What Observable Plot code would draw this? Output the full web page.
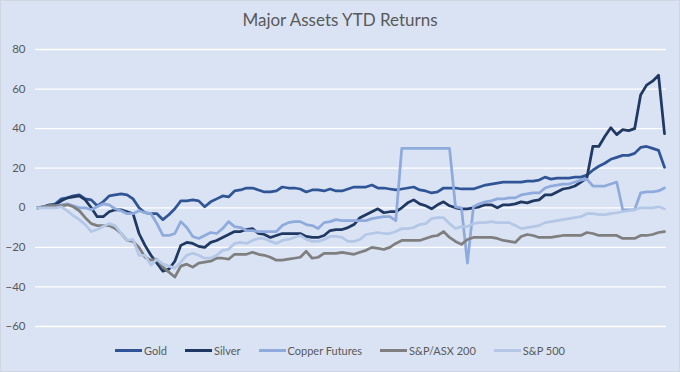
<!DOCTYPE html>
<html><head><meta charset="utf-8">
<script src="https://cdn.jsdelivr.net/npm/d3@7"></script>
<script src="https://cdn.jsdelivr.net/npm/@observablehq/plot@0.6"></script>
<style>
html,body{margin:0;padding:0;}
body{width:680px;height:372px;background:#dae3f3;font-family:Lato,"Open Sans",sans-serif;position:relative;overflow:hidden;}
#frame{position:absolute;left:0;top:0;width:678px;height:370px;border:1px solid #cfd6e2;}
#title{position:absolute;top:10px;left:0;width:680px;text-align:center;font-size:17px;line-height:20px;color:#595959;}
#chart{position:absolute;top:40px;left:0;}
#legend{position:absolute;top:344px;left:0;width:680px;display:flex;justify-content:center;align-items:center;font-size:11px;color:#595959;}
.item{display:flex;align-items:center;margin:0 9px;}
.sw{display:inline-block;width:27px;height:3px;margin-right:2px;}
</style>
</head><body>
<div id="frame"></div>
<div id="title">Major Assets YTD Returns</div>
<div id="chart"></div>
<div id="legend"></div>
<script>
const seriesNames = ["Gold","Silver","Copper Futures","S&P/ASX 200","S&P 500"];
const seriesColors = ["#2f5597","#1f3864","#8faadc","#7f7f7f","#b4c7e7"];
const yTicks = [-60,-40,-20,0,20,40,60,80];

const gold = [0,0.5,1,2,4.5,5,6,6.5,4.5,4,1,3,6,6.5,7,6.5,4.5,0,-2.5,-3,-3,-6,-3.5,-0.5,3.5,3.5,4,3.5,0.5,3,4.5,6,5.5,8.5,9,10,10,9,8,8,8.5,10.5,10,10,9.5,8,9,9,8.5,9.5,8.5,8.5,9.5,10.5,10.5,10.5,11.5,10,10,9.5,9,9.5,10,10.5,9,8.5,7.5,8,10,10,10,9.5,9.5,9.5,10.5,11.5,12,12.5,13,13,13,13,13.5,13.5,14,15.5,14.5,15,15,15,15.5,15.5,16.5,19,21,22.5,24.5,25.5,26.5,26.5,27.5,30.5,31,30,29,20.5];
const silver = [0,0.5,1.5,1.5,3.5,5,5.5,6,4,0,-4.5,-4.5,-2,-1,-1,-2,-3,-13,-19,-24,-28,-32,-31,-27,-19,-17.5,-18,-19.5,-20,-17.5,-16.5,-15,-13.5,-12,-12,-11,-10.5,-13,-13.5,-15,-14,-13,-13,-13,-13,-14.5,-15,-15,-14,-11.5,-11,-11,-10,-8.5,-5,-3.5,-2,-0.5,-2.5,-2,-2,0,2.5,4,2,1,-0.5,1.5,3,1,0,-0.5,-0.5,0,0.5,1.5,1.5,0,1.5,1.5,2,3,2.5,3.5,4,6.5,6.5,8,9.5,10,11,13,15,31,31,36,40.5,37,39.5,39,40,57,62,64,67,37.5];
const copper = [0,0.5,1,1,1.5,2,1,0,0,-1,0.5,2,1.5,-0.5,-1.5,-3,-3,-1.5,-2.5,-3,-8,-14,-14,-13,-7,-10,-14.5,-15.5,-14,-12.5,-13,-10.5,-7,-9.5,-10,-11.5,-11.5,-12,-12,-12,-12,-9,-7.5,-7,-7,-8.5,-9,-10.5,-7.5,-7,-6,-6.5,-6.5,-6.5,-6.5,-6.5,-5.5,-5,-4.5,-4.5,-6.5,30,30,30,30,30,30,30,30,30,0.5,0,-28,0.5,2,3,3.5,4.5,4.5,5,5,6.5,7,7.5,7.5,10,11,11.5,12,12,13,14,14.5,11,11,11,12,13,-1,-1,-1,7.5,8,8,8.5,10];
const asx = [0,0.5,1,1,1,1.5,0.5,-1.5,-5,-8,-9,-9,-9,-10.5,-13,-16.5,-17,-20,-25,-26.5,-26,-30,-32.5,-35,-29.5,-28.5,-30,-28,-27.5,-27,-25.5,-25.5,-26,-23.5,-23.5,-23.5,-22.5,-23.5,-24,-25,-26.5,-26.5,-26,-25.5,-25,-22,-25.5,-25,-23,-23,-23,-22.5,-23,-23.5,-22.5,-21.5,-20,-20.5,-21,-20,-18,-16.5,-16.5,-16.5,-16.5,-15.5,-14.5,-14,-12,-15,-17,-18.5,-16,-15,-15,-15,-15,-15.5,-16.5,-17,-17.5,-14.5,-13.5,-14,-15,-15,-15,-14.5,-14,-14,-14,-14,-12.5,-13,-14,-14,-14,-14,-15.5,-15.5,-15.5,-14,-14,-13.5,-12.5,-12];
const sp500 = [0,0,0,0,0.5,-1.5,-4,-6,-8.5,-12,-11,-9.5,-8,-9,-13,-16.5,-16,-24,-24,-29,-26,-28.5,-29.5,-30.5,-27.5,-24,-23,-24,-25.5,-25.5,-24,-21.5,-21,-18,-17.5,-18,-16.5,-15.5,-15.5,-17,-18,-16.5,-16,-15,-14,-16,-17,-17,-16,-14.5,-14.5,-15,-17,-17,-16,-13.5,-13,-12.5,-13,-13,-12,-10.5,-10.5,-10,-8.5,-8,-5.5,-5,-5,-8,-10.5,-9.5,-9.5,-8,-7.5,-7.5,-7,-7.5,-7.5,-7.5,-9,-10.5,-10,-9.5,-9,-7.5,-7,-6.5,-6,-5.5,-5,-4.5,-3,-3,-3.5,-3.5,-3,-2.5,-2,-1.5,-1,0,0,0,0.5,-0.5];

const seriesValues = [gold, silver, copper, asx, sp500];
const rows = [];
seriesValues.forEach((vals, s) => vals.forEach((v, i) => rows.push({day: i, value: v, series: seriesNames[s]})));

const chart = Plot.plot({
  width: 680, height: 300,
  marginLeft: 35, marginRight: 14, marginTop: 9, marginBottom: 14,
  style: {background: "transparent", color: "#595959", fontFamily: "Lato, 'Open Sans', sans-serif"},
  x: {domain: [0, gold.length - 1], inset: 2, axis: null},
  y: {domain: [-60, 80], label: null},
  color: {domain: seriesNames, range: seriesColors},
  marks: [
    Plot.ruleY(yTicks, {stroke: "white", strokeWidth: 1.3}),
    Plot.axisY(yTicks, {tickSize: 0, tickPadding: 10, fontSize: 11.5, label: null}),
    Plot.line(rows, {x: "day", y: "value", z: "series", stroke: "series", strokeWidth: 2.75, strokeLinejoin: "round", strokeLinecap: "round"})
  ]
});
document.getElementById("chart").appendChild(chart);

const legend = document.getElementById("legend");
seriesNames.forEach((name, k) => {
  const it = document.createElement("div");
  it.className = "item";
  const sw = document.createElement("span");
  sw.className = "sw";
  sw.style.background = seriesColors[k];
  const t = document.createElement("span");
  t.textContent = name;
  it.appendChild(sw); it.appendChild(t);
  legend.appendChild(it);
});
</script>
</body></html>
